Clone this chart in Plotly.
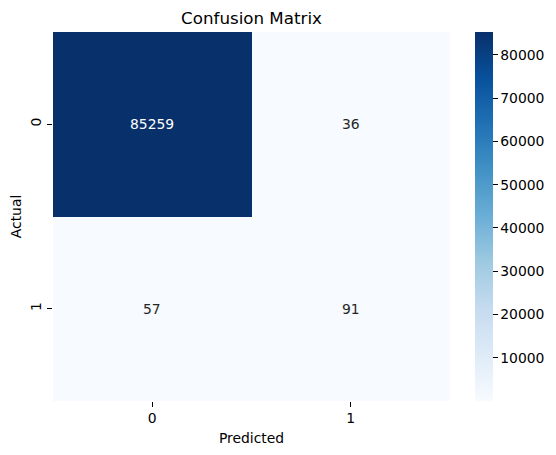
import plotly.graph_objects as go

x_labels = ["0", "1"]
y_labels = ["0", "1"]
values = [[85259, 36], [57, 91]]
colorbar_ticks = [10000, 20000, 30000, 40000, 50000, 60000, 70000, 80000]
blues = [[0.0, "#f7fbff"], [0.125, "#deebf7"], [0.25, "#c6dbef"], [0.375, "#9ecae1"],
         [0.5, "#6baed6"], [0.625, "#4292c6"], [0.75, "#2171b5"], [0.875, "#08519c"], [1.0, "#08306b"]]
FONT = "DejaVu Sans"
TICK_FONT = dict(family=FONT, size=13.9, color="#000")

fig = go.Figure(go.Heatmap(
    x=x_labels, y=y_labels, z=values, colorscale=blues, zmin=36, zmax=85259,
    colorbar=dict(
        thickness=18, len=369, lenmode="pixels", x=1.063, xref="paper", xanchor="left",
        y=0.5, yanchor="middle", yref="paper", outlinewidth=0, xpad=0, ypad=0,
        tickvals=colorbar_ticks, tickformat="d",
        ticks="outside", ticklen=5, tickwidth=1, tickcolor="#000",
        tickfont=TICK_FONT,
    ),
))
for i, row in enumerate(values):
    for j, v in enumerate(row):
        fig.add_annotation(x=x_labels[j], y=y_labels[i], text=str(v), showarrow=False,
                           font=dict(family=FONT, size=13.9, color="#ffffff" if v > 40000 else "#262626"))
fig.update_layout(
    width=548, height=447, margin=dict(l=45, r=106, t=24, b=54, autoexpand=False),
    paper_bgcolor="#fff", plot_bgcolor="#fff",
    title=dict(text="Confusion Matrix", x=0.5, xref="paper", xanchor="center", y=1, yref="paper",
               yanchor="bottom", pad=dict(b=8), font=dict(family=FONT, size=16.7, color="#000")),
    xaxis=dict(title=dict(text="Predicted", font=TICK_FONT, standoff=8),
               ticks="outside", ticklen=5, tickcolor="#000", tickfont=TICK_FONT, ticklabelstandoff=-1,
               showgrid=False, zeroline=False, showline=False),
    yaxis=dict(title=dict(text="Actual", font=TICK_FONT, standoff=8),
               autorange="reversed", tickangle=-90, ticks="outside", ticklen=5, tickcolor="#000",
               tickfont=TICK_FONT,
               showgrid=False, zeroline=False, showline=False),
)
fig.write_html("out.html")
